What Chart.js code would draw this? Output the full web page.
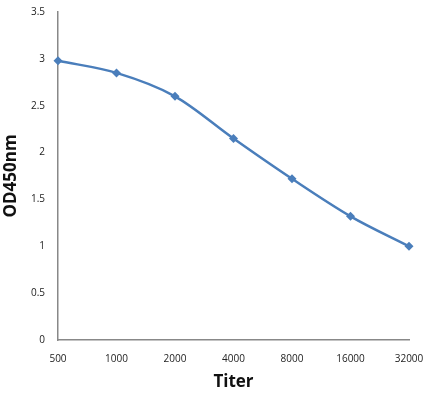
<!DOCTYPE html>
<html>
<head>
<meta charset="utf-8">
<script src="https://cdn.jsdelivr.net/npm/chart.js@4/dist/chart.umd.min.js"></script>
<style>
  html, body { margin: 0; padding: 0; background: #fff; }
  #wrap { width: 433px; height: 395px; position: relative; }
</style>
</head>
<body>
<div id="wrap"><canvas id="odChart"></canvas></div>
<script>
const titers = ["500", "1000", "2000", "4000", "8000", "16000", "32000"];
const od450 = [2.98, 2.85, 2.60, 2.15, 1.72, 1.32, 1.0];
const yTicks = [0, 0.5, 1, 1.5, 2, 2.5, 3, 3.5];

const lineBlue = "#4a7ebb";
const axisGrey = "#888888";
const fontName = "'Open Sans', 'Noto Sans', sans-serif";

const ctx = document.getElementById("odChart").getContext("2d");

new Chart(ctx, {
  type: "line",
  data: {
    labels: titers,
    datasets: [
      {
        data: od450,
        borderColor: lineBlue,
        backgroundColor: lineBlue,
        borderWidth: 2.5,
        cubicInterpolationMode: "monotone",
        pointStyle: "rectRot",
        pointRadius: 4.5,
        pointBorderWidth: 0,
        pointBackgroundColor: lineBlue,
        clip: false,
      },
    ],
  },
  options: {
    animation: false,
    responsive: true,
    maintainAspectRatio: false,
    layout: {
      padding: { top: 12, right: 24, bottom: 4, left: 3 },
    },
    plugins: {
      legend: { display: false },
      tooltip: { enabled: false },
    },
    scales: {
      x: {
        offset: false,
        grid: { display: false, drawTicks: false },
        border: { color: axisGrey, width: 1.5 },
        ticks: {
          color: "#222",
          font: { family: fontName, size: 10 },
          padding: 13,
          maxRotation: 0,
          autoSkip: false,
        },
        title: {
          display: true,
          text: "Titer",
          color: "#111",
          font: { family: fontName, size: 17, weight: "bold", lineHeight: 1 },
          padding: { top: -4, bottom: 0 },
        },
        afterFit: function (axis) {
          // keep the last label's overflow within the layout padding
          axis.paddingRight = 16;
        },
      },
      y: {
        min: 0,
        max: 3.5,
        afterBuildTicks: function (axis) {
          axis.ticks = yTicks.map((v) => ({ value: v }));
        },
        grid: {
          display: true,
          drawOnChartArea: false,
          drawTicks: true,
          tickLength: 10,
          tickColor: "rgba(0,0,0,0)",
        },
        border: { color: axisGrey, width: 1.5 },
        ticks: {
          color: "#222",
          font: { family: fontName, size: 10 },
          padding: 3,
          callback: function (value) {
            return String(value);
          },
        },
        title: {
          display: true,
          text: "OD450nm",
          color: "#111",
          font: { family: fontName, size: 17, weight: "bold", lineHeight: 1 },
          padding: { top: 0, bottom: 2 },
        },
        afterFit: function (axis) {
          axis.width = 55;
        },
      },
    },
  },
});
</script>
</body>
</html>
